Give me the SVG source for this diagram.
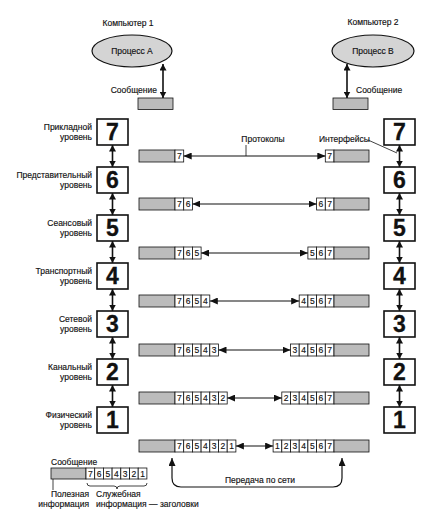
<svg xmlns="http://www.w3.org/2000/svg" width="445" height="512" viewBox="0 0 445 512">
<style>
text{font-family:"Liberation Sans",Arial,sans-serif;fill:#111;stroke:#111;stroke-width:0.15}
.lbl{font-size:8.5px}
.lr{font-size:8.5px;text-anchor:end}
.num{font-size:23px;font-weight:bold;text-anchor:middle;stroke-width:0.3}
.cd{font-size:8.5px;text-anchor:middle}
.box{fill:#fff;stroke:#111;stroke-width:1.6}
.bar{fill:#bcbcbc;stroke:#111;stroke-width:0.8}
.cell{fill:#fff;stroke:#111;stroke-width:0.8}
.ell{fill:#d4d4d4;stroke:#111;stroke-width:1.2}
.ln{stroke:#111;stroke-width:1.2;fill:none}
.lv{stroke:#111;stroke-width:1.6;fill:none}
.thin{stroke:#111;stroke-width:0.8;fill:none}
</style>
<defs>
<marker id="ah" markerUnits="userSpaceOnUse" markerWidth="8" markerHeight="7" refX="8" refY="3.5" orient="auto-start-reverse"><path d="M0,0 L8,3.5 L0,7 z" fill="#111"/></marker>
<marker id="av" markerUnits="userSpaceOnUse" markerWidth="6.5" markerHeight="7" refX="6.5" refY="3.5" orient="auto-start-reverse"><path d="M0,0 L6.5,3.5 L0,7 z" fill="#111"/></marker>
</defs>

<g id="computer1">
<text class="lbl" x="128" y="26" text-anchor="middle">Компьютер 1</text>
<g id="procA"><ellipse class="ell" cx="132" cy="51" rx="40" ry="16"/><text class="lbl" x="132" y="54" text-anchor="middle">Процесс А</text></g>
<g id="msgA"><rect class="bar" x="138" y="98" width="35" height="11.5"/><text class="lr" x="157" y="93">Сообщение</text></g>
</g>
<g id="computer2">
<text class="lbl" x="373" y="25" text-anchor="middle">Компьютер 2</text>
<g id="procB"><ellipse class="ell" cx="373" cy="51" rx="41" ry="16"/><text class="lbl" x="373" y="54" text-anchor="middle">Процесс В</text></g>
<g id="msgB"><rect class="bar" x="333" y="98" width="35" height="11.5"/><text class="lbl" x="356" y="93">Сообщение</text></g>
</g>

<g id="left-levels">
<g id="L7"><rect class="box" x="97" y="119" width="31" height="26"/><text class="num" x="112.5" y="140">7</text><text class="lr" x="92" y="130">Прикладной</text><text class="lr" x="92" y="140">уровень</text></g>
<g id="L6"><rect class="box" x="97" y="167" width="31" height="26"/><text class="num" x="112.5" y="188">6</text><text class="lr" x="92" y="178">Представительный</text><text class="lr" x="92" y="188">уровень</text></g>
<g id="L5"><rect class="box" x="97" y="215" width="31" height="26"/><text class="num" x="112.5" y="236">5</text><text class="lr" x="92" y="226">Сеансовый</text><text class="lr" x="92" y="236">уровень</text></g>
<g id="L4"><rect class="box" x="97" y="263" width="31" height="26"/><text class="num" x="112.5" y="284">4</text><text class="lr" x="92" y="274">Транспортный</text><text class="lr" x="92" y="284">уровень</text></g>
<g id="L3"><rect class="box" x="97" y="311" width="31" height="26"/><text class="num" x="112.5" y="332">3</text><text class="lr" x="92" y="322">Сетевой</text><text class="lr" x="92" y="332">уровень</text></g>
<g id="L2"><rect class="box" x="97" y="359" width="31" height="26"/><text class="num" x="112.5" y="380">2</text><text class="lr" x="92" y="370">Канальный</text><text class="lr" x="92" y="380">уровень</text></g>
<g id="L1"><rect class="box" x="97" y="407" width="31" height="26"/><text class="num" x="112.5" y="428">1</text><text class="lr" x="92" y="418">Физический</text><text class="lr" x="92" y="428">уровень</text></g>
</g>

<g id="right-levels">
<g id="R7"><rect class="box" x="384" y="119" width="31" height="26"/><text class="num" x="399.5" y="140">7</text></g>
<g id="R6"><rect class="box" x="384" y="167" width="31" height="26"/><text class="num" x="399.5" y="188">6</text></g>
<g id="R5"><rect class="box" x="384" y="215" width="31" height="26"/><text class="num" x="399.5" y="236">5</text></g>
<g id="R4"><rect class="box" x="384" y="263" width="31" height="26"/><text class="num" x="399.5" y="284">4</text></g>
<g id="R3"><rect class="box" x="384" y="311" width="31" height="26"/><text class="num" x="399.5" y="332">3</text></g>
<g id="R2"><rect class="box" x="384" y="359" width="31" height="26"/><text class="num" x="399.5" y="380">2</text></g>
<g id="R1"><rect class="box" x="384" y="407" width="31" height="26"/><text class="num" x="399.5" y="428">1</text></g>
</g>

<g id="row7">
<rect class="bar" x="139" y="150" width="36" height="12"/>
<rect class="cell" x="175" y="150" width="8.7" height="12"/><text class="cd" x="179.35" y="159">7</text>
<rect class="cell" x="325.3" y="150" width="8.7" height="12"/><text class="cd" x="329.65" y="159">7</text>
<rect class="bar" x="334" y="150" width="35" height="12"/>
</g>
<g id="row6">
<rect class="bar" x="139" y="198" width="36" height="12"/>
<rect class="cell" x="175" y="198" width="8.7" height="12"/><text class="cd" x="179.35" y="207">7</text>
<rect class="cell" x="183.7" y="198" width="8.7" height="12"/><text class="cd" x="188.05" y="207">6</text>
<rect class="cell" x="316.6" y="198" width="8.7" height="12"/><text class="cd" x="320.95" y="207">6</text>
<rect class="cell" x="325.3" y="198" width="8.7" height="12"/><text class="cd" x="329.65" y="207">7</text>
<rect class="bar" x="334" y="198" width="35" height="12"/>
</g>
<g id="row5">
<rect class="bar" x="139" y="247" width="36" height="12"/>
<rect class="cell" x="175" y="247" width="8.7" height="12"/><text class="cd" x="179.35" y="256">7</text>
<rect class="cell" x="183.7" y="247" width="8.7" height="12"/><text class="cd" x="188.05" y="256">6</text>
<rect class="cell" x="192.4" y="247" width="8.7" height="12"/><text class="cd" x="196.75" y="256">5</text>
<rect class="cell" x="307.9" y="247" width="8.7" height="12"/><text class="cd" x="312.25" y="256">5</text>
<rect class="cell" x="316.6" y="247" width="8.7" height="12"/><text class="cd" x="320.95" y="256">6</text>
<rect class="cell" x="325.3" y="247" width="8.7" height="12"/><text class="cd" x="329.65" y="256">7</text>
<rect class="bar" x="334" y="247" width="35" height="12"/>
</g>
<g id="row4">
<rect class="bar" x="139" y="295" width="36" height="12"/>
<rect class="cell" x="175" y="295" width="8.7" height="12"/><text class="cd" x="179.35" y="304">7</text>
<rect class="cell" x="183.7" y="295" width="8.7" height="12"/><text class="cd" x="188.05" y="304">6</text>
<rect class="cell" x="192.4" y="295" width="8.7" height="12"/><text class="cd" x="196.75" y="304">5</text>
<rect class="cell" x="201.1" y="295" width="8.7" height="12"/><text class="cd" x="205.45" y="304">4</text>
<rect class="cell" x="299.2" y="295" width="8.7" height="12"/><text class="cd" x="303.55" y="304">4</text>
<rect class="cell" x="307.9" y="295" width="8.7" height="12"/><text class="cd" x="312.25" y="304">5</text>
<rect class="cell" x="316.6" y="295" width="8.7" height="12"/><text class="cd" x="320.95" y="304">6</text>
<rect class="cell" x="325.3" y="295" width="8.7" height="12"/><text class="cd" x="329.65" y="304">7</text>
<rect class="bar" x="334" y="295" width="35" height="12"/>
</g>
<g id="row3">
<rect class="bar" x="139" y="344" width="36" height="12"/>
<rect class="cell" x="175" y="344" width="8.7" height="12"/><text class="cd" x="179.35" y="353">7</text>
<rect class="cell" x="183.7" y="344" width="8.7" height="12"/><text class="cd" x="188.05" y="353">6</text>
<rect class="cell" x="192.4" y="344" width="8.7" height="12"/><text class="cd" x="196.75" y="353">5</text>
<rect class="cell" x="201.1" y="344" width="8.7" height="12"/><text class="cd" x="205.45" y="353">4</text>
<rect class="cell" x="209.8" y="344" width="8.7" height="12"/><text class="cd" x="214.15" y="353">3</text>
<rect class="cell" x="290.5" y="344" width="8.7" height="12"/><text class="cd" x="294.85" y="353">3</text>
<rect class="cell" x="299.2" y="344" width="8.7" height="12"/><text class="cd" x="303.55" y="353">4</text>
<rect class="cell" x="307.9" y="344" width="8.7" height="12"/><text class="cd" x="312.25" y="353">5</text>
<rect class="cell" x="316.6" y="344" width="8.7" height="12"/><text class="cd" x="320.95" y="353">6</text>
<rect class="cell" x="325.3" y="344" width="8.7" height="12"/><text class="cd" x="329.65" y="353">7</text>
<rect class="bar" x="334" y="344" width="35" height="12"/>
</g>
<g id="row2">
<rect class="bar" x="139" y="392" width="36" height="12"/>
<rect class="cell" x="175" y="392" width="8.7" height="12"/><text class="cd" x="179.35" y="401">7</text>
<rect class="cell" x="183.7" y="392" width="8.7" height="12"/><text class="cd" x="188.05" y="401">6</text>
<rect class="cell" x="192.4" y="392" width="8.7" height="12"/><text class="cd" x="196.75" y="401">5</text>
<rect class="cell" x="201.1" y="392" width="8.7" height="12"/><text class="cd" x="205.45" y="401">4</text>
<rect class="cell" x="209.8" y="392" width="8.7" height="12"/><text class="cd" x="214.15" y="401">3</text>
<rect class="cell" x="218.5" y="392" width="8.7" height="12"/><text class="cd" x="222.85" y="401">2</text>
<rect class="cell" x="281.8" y="392" width="8.7" height="12"/><text class="cd" x="286.15" y="401">2</text>
<rect class="cell" x="290.5" y="392" width="8.7" height="12"/><text class="cd" x="294.85" y="401">3</text>
<rect class="cell" x="299.2" y="392" width="8.7" height="12"/><text class="cd" x="303.55" y="401">4</text>
<rect class="cell" x="307.9" y="392" width="8.7" height="12"/><text class="cd" x="312.25" y="401">5</text>
<rect class="cell" x="316.6" y="392" width="8.7" height="12"/><text class="cd" x="320.95" y="401">6</text>
<rect class="cell" x="325.3" y="392" width="8.7" height="12"/><text class="cd" x="329.65" y="401">7</text>
<rect class="bar" x="334" y="392" width="35" height="12"/>
</g>
<g id="row1">
<rect class="bar" x="139" y="440" width="36" height="12"/>
<rect class="cell" x="175" y="440" width="8.7" height="12"/><text class="cd" x="179.35" y="449">7</text>
<rect class="cell" x="183.7" y="440" width="8.7" height="12"/><text class="cd" x="188.05" y="449">6</text>
<rect class="cell" x="192.4" y="440" width="8.7" height="12"/><text class="cd" x="196.75" y="449">5</text>
<rect class="cell" x="201.1" y="440" width="8.7" height="12"/><text class="cd" x="205.45" y="449">4</text>
<rect class="cell" x="209.8" y="440" width="8.7" height="12"/><text class="cd" x="214.15" y="449">3</text>
<rect class="cell" x="218.5" y="440" width="8.7" height="12"/><text class="cd" x="222.85" y="449">2</text>
<rect class="cell" x="227.2" y="440" width="8.7" height="12"/><text class="cd" x="231.55" y="449">1</text>
<rect class="cell" x="273.1" y="440" width="8.7" height="12"/><text class="cd" x="277.45" y="449">1</text>
<rect class="cell" x="281.8" y="440" width="8.7" height="12"/><text class="cd" x="286.15" y="449">2</text>
<rect class="cell" x="290.5" y="440" width="8.7" height="12"/><text class="cd" x="294.85" y="449">3</text>
<rect class="cell" x="299.2" y="440" width="8.7" height="12"/><text class="cd" x="303.55" y="449">4</text>
<rect class="cell" x="307.9" y="440" width="8.7" height="12"/><text class="cd" x="312.25" y="449">5</text>
<rect class="cell" x="316.6" y="440" width="8.7" height="12"/><text class="cd" x="320.95" y="449">6</text>
<rect class="cell" x="325.3" y="440" width="8.7" height="12"/><text class="cd" x="329.65" y="449">7</text>
<rect class="bar" x="334" y="440" width="35" height="12"/>
</g>

<g id="legend">
<text class="lbl" x="51" y="465">Сообщение</text>
<rect class="bar" x="51" y="468" width="35" height="11"/>
<rect class="cell" x="86" y="468" width="8.7" height="11"/><text class="cd" x="90.35" y="476.5">7</text>
<rect class="cell" x="94.7" y="468" width="8.7" height="11"/><text class="cd" x="99.05" y="476.5">6</text>
<rect class="cell" x="103.4" y="468" width="8.7" height="11"/><text class="cd" x="107.75" y="476.5">5</text>
<rect class="cell" x="112.1" y="468" width="8.7" height="11"/><text class="cd" x="116.45" y="476.5">4</text>
<rect class="cell" x="120.8" y="468" width="8.7" height="11"/><text class="cd" x="125.15" y="476.5">3</text>
<rect class="cell" x="129.5" y="468" width="8.7" height="11"/><text class="cd" x="133.85" y="476.5">2</text>
<rect class="cell" x="138.2" y="468" width="8.7" height="11"/><text class="cd" x="142.55" y="476.5">1</text>
<path class="thin" d="M53,479 V490"/>
<path class="thin" d="M87,483 Q87,486 90,486 H114 Q117,486 117,489 Q117,486 120,486 H144 Q147,486 147,483"/>
<text class="lr" x="89" y="497">Полезная</text>
<text class="lr" x="89" y="507">информация</text>
<text class="lbl" x="96" y="497">Служебная</text>
<text class="lbl" x="96" y="507">информация — заголовки</text>
</g>

<g id="labels">
<text class="lbl" x="263" y="142" text-anchor="middle">Протоколы</text>
<text class="lbl" x="319" y="142">Интерфейсы</text>
<text class="lbl" x="260" y="483" text-anchor="middle">Передача по сети</text>
</g>

<g id="connectors">
<path class="lv" d="M163,64 V98" marker-start="url(#av)" marker-end="url(#av)"/>
<path class="lv" d="M347,64 V98" marker-start="url(#av)" marker-end="url(#av)"/>
<path class="lv" d="M112.5,145 V167" marker-start="url(#av)" marker-end="url(#av)"/>
<path class="lv" d="M112.5,193 V215" marker-start="url(#av)" marker-end="url(#av)"/>
<path class="lv" d="M112.5,241 V263" marker-start="url(#av)" marker-end="url(#av)"/>
<path class="lv" d="M112.5,289 V311" marker-start="url(#av)" marker-end="url(#av)"/>
<path class="lv" d="M112.5,337 V359" marker-start="url(#av)" marker-end="url(#av)"/>
<path class="lv" d="M112.5,385 V407" marker-start="url(#av)" marker-end="url(#av)"/>
<path class="lv" d="M399.5,145 V167" marker-start="url(#av)" marker-end="url(#av)"/>
<path class="lv" d="M399.5,193 V215" marker-start="url(#av)" marker-end="url(#av)"/>
<path class="lv" d="M399.5,241 V263" marker-start="url(#av)" marker-end="url(#av)"/>
<path class="lv" d="M399.5,289 V311" marker-start="url(#av)" marker-end="url(#av)"/>
<path class="lv" d="M399.5,337 V359" marker-start="url(#av)" marker-end="url(#av)"/>
<path class="lv" d="M399.5,385 V407" marker-start="url(#av)" marker-end="url(#av)"/>
<path class="ln" d="M183.7,156 H325.3" marker-start="url(#ah)" marker-end="url(#ah)"/>
<path class="ln" d="M192.4,204 H316.6" marker-start="url(#ah)" marker-end="url(#ah)"/>
<path class="ln" d="M201.1,253 H307.9" marker-start="url(#ah)" marker-end="url(#ah)"/>
<path class="ln" d="M209.8,301 H299.2" marker-start="url(#ah)" marker-end="url(#ah)"/>
<path class="ln" d="M218.5,350 H290.5" marker-start="url(#ah)" marker-end="url(#ah)"/>
<path class="ln" d="M227.2,398 H281.8" marker-start="url(#ah)" marker-end="url(#ah)"/>
<path class="ln" d="M235.9,446 H273.1" marker-start="url(#ah)" marker-end="url(#ah)"/>
<path class="thin" d="M246,145 V156"/>
<path class="thin" d="M368,140 L397,153"/>
<path class="ln" d="M172,458 V478 Q172,487 181,487 H333 Q342,487 342,478 V458" marker-start="url(#ah)" marker-end="url(#ah)"/>
</g>
</svg>
